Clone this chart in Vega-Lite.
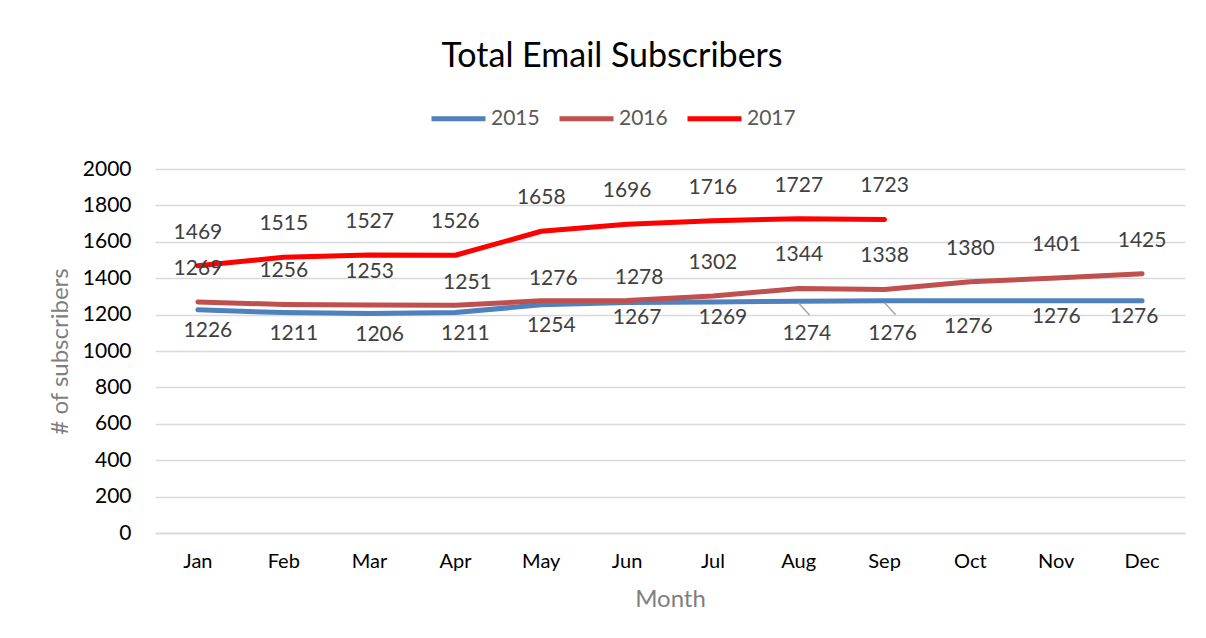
{
  "$schema": "https://vega.github.io/schema/vega-lite/v6.json",
  "autosize": "none",
  "width": 1030,
  "height": 364,
  "padding": {"left": 155, "top": 169, "right": 21, "bottom": 105},
  "background": "white",
  "config": {
    "font": "Lato",
    "view": {"stroke": null},
    "axis": {"labelFont": "Lato", "titleFont": "Lato"}
  },
  "title": {
    "text": "Total Email Subscribers",
    "font": "Lato",
    "fontSize": 34,
    "fontWeight": "normal",
    "color": "#000000",
    "anchor": "middle",
    "frame": "group",
    "dx": -58,
    "offset": 15
  },
  "data": {
    "values": [
      {"month": "Jan", "year": "2015", "value": 1226},
      {"month": "Feb", "year": "2015", "value": 1211},
      {"month": "Mar", "year": "2015", "value": 1206},
      {"month": "Apr", "year": "2015", "value": 1211},
      {"month": "May", "year": "2015", "value": 1254},
      {"month": "Jun", "year": "2015", "value": 1267},
      {"month": "Jul", "year": "2015", "value": 1269},
      {"month": "Aug", "year": "2015", "value": 1274},
      {"month": "Sep", "year": "2015", "value": 1276},
      {"month": "Oct", "year": "2015", "value": 1276},
      {"month": "Nov", "year": "2015", "value": 1276},
      {"month": "Dec", "year": "2015", "value": 1276},
      {"month": "Jan", "year": "2016", "value": 1269},
      {"month": "Feb", "year": "2016", "value": 1256},
      {"month": "Mar", "year": "2016", "value": 1253},
      {"month": "Apr", "year": "2016", "value": 1251},
      {"month": "May", "year": "2016", "value": 1276},
      {"month": "Jun", "year": "2016", "value": 1278},
      {"month": "Jul", "year": "2016", "value": 1302},
      {"month": "Aug", "year": "2016", "value": 1344},
      {"month": "Sep", "year": "2016", "value": 1338},
      {"month": "Oct", "year": "2016", "value": 1380},
      {"month": "Nov", "year": "2016", "value": 1401},
      {"month": "Dec", "year": "2016", "value": 1425},
      {"month": "Jan", "year": "2017", "value": 1469},
      {"month": "Feb", "year": "2017", "value": 1515},
      {"month": "Mar", "year": "2017", "value": 1527},
      {"month": "Apr", "year": "2017", "value": 1526},
      {"month": "May", "year": "2017", "value": 1658},
      {"month": "Jun", "year": "2017", "value": 1696},
      {"month": "Jul", "year": "2017", "value": 1716},
      {"month": "Aug", "year": "2017", "value": 1727},
      {"month": "Sep", "year": "2017", "value": 1723}
    ]
  },
  "encoding": {
    "x": {
      "field": "month",
      "type": "nominal",
      "sort": ["Jan", "Feb", "Mar", "Apr", "May", "Jun", "Jul", "Aug", "Sep", "Oct", "Nov", "Dec"],
      "scale": {"paddingInner": 0, "paddingOuter": 0},
      "axis": {
        "title": "Month",
        "titleColor": "#7f7f7f",
        "titleFontSize": 24,
        "titleFontWeight": "normal",
        "titlePadding": 16,
        "labelAngle": 0,
        "labelFontSize": 20,
        "labelColor": "#000000",
        "labelPadding": 18,
        "ticks": false,
        "domain": true,
        "domainColor": "#d9d9d9",
        "domainWidth": 1.5,
        "grid": false
      }
    },
    "y": {
      "field": "value",
      "type": "quantitative",
      "scale": {"domain": [0, 2000], "nice": false},
      "axis": {
        "title": "# of subscribers",
        "titleColor": "#7f7f7f",
        "titleFontSize": 24,
        "titleFontWeight": "normal",
        "titlePadding": 10,
        "format": "d",
        "values": [0, 200, 400, 600, 800, 1000, 1200, 1400, 1600, 1800, 2000],
        "labelFontSize": 21,
        "labelColor": "#000000",
        "labelPadding": 24,
        "ticks": false,
        "domain": false,
        "grid": true,
        "gridColor": "#d9d9d9",
        "gridWidth": 1.5
      }
    }
  },
  "layer": [
    {
      "mark": {"type": "line", "strokeWidth": 5, "strokeCap": "round", "strokeJoin": "round"},
      "encoding": {
        "color": {
          "field": "year",
          "type": "nominal",
          "scale": {"domain": ["2015", "2016", "2017"], "range": ["#4f81bd", "#c0504d", "#ff0000"]},
          "legend": {
            "title": null,
            "orient": "none",
            "direction": "horizontal",
            "legendX": 274,
            "legendY": -80,
            "symbolType": "stroke",
            "symbolSize": 2916,
            "symbolStrokeWidth": 5,
            "labelFontSize": 21,
            "labelColor": "#595959",
            "labelOffset": 3,
            "columnPadding": 9,
            "labelFont": "Lato"
          }
        }
      }
    },
    {
      "transform": [{"filter": "datum.year == '2015' && (datum.month == 'Aug' || datum.month == 'Sep')"}],
      "mark": {"type": "rule", "color": "#a6a6a6", "strokeWidth": 1.5, "xOffset": 0, "yOffset": 2, "x2Offset": 11, "y2Offset": 14},
      "encoding": {
        "x2": {"field": "month"},
        "y2": {"field": "value"}
      }
    },
    {
      "transform": [{"filter": "datum.year == '2017'"}],
      "mark": {"type": "text", "fontSize": 21, "color": "#404040", "dy": -33},
      "encoding": {"text": {"field": "value", "type": "quantitative"}}
    },
    {
      "transform": [{"filter": "datum.year == '2016' && indexof(['Apr','May','Jun'], datum.month) < 0"}],
      "mark": {"type": "text", "fontSize": 21, "color": "#404040", "dy": -33},
      "encoding": {"text": {"field": "value", "type": "quantitative"}}
    },
    {
      "transform": [{"filter": "datum.year == '2016' && indexof(['Apr','May','Jun'], datum.month) >= 0"}],
      "mark": {"type": "text", "fontSize": 21, "color": "#404040", "dy": -22, "dx": 12},
      "encoding": {"text": {"field": "value", "type": "quantitative"}}
    },
    {
      "transform": [{"filter": "datum.year == '2015' && indexof(['Jan','Feb','Mar','Apr','May'], datum.month) >= 0"}],
      "mark": {"type": "text", "fontSize": 21, "color": "#404040", "dy": 21, "dx": 10},
      "encoding": {"text": {"field": "value", "type": "quantitative"}}
    },
    {
      "transform": [{"filter": "datum.year == '2015' && indexof(['Jun','Jul'], datum.month) >= 0"}],
      "mark": {"type": "text", "fontSize": 21, "color": "#404040", "dy": 16, "dx": 10},
      "encoding": {"text": {"field": "value", "type": "quantitative"}}
    },
    {
      "transform": [{"filter": "datum.year == '2015' && indexof(['Aug','Sep'], datum.month) >= 0"}],
      "mark": {"type": "text", "fontSize": 21, "color": "#404040", "dy": 33, "dx": 8},
      "encoding": {"text": {"field": "value", "type": "quantitative"}}
    },
    {
      "transform": [{"filter": "datum.year == '2015' && datum.month == 'Oct'"}],
      "mark": {"type": "text", "fontSize": 21, "color": "#404040", "dy": 26, "dx": -2},
      "encoding": {"text": {"field": "value", "type": "quantitative"}}
    },
    {
      "transform": [{"filter": "datum.year == '2015' && datum.month == 'Nov'"}],
      "mark": {"type": "text", "fontSize": 21, "color": "#404040", "dy": 16, "dx": 0},
      "encoding": {"text": {"field": "value", "type": "quantitative"}}
    },
    {
      "transform": [{"filter": "datum.year == '2015' && datum.month == 'Dec'"}],
      "mark": {"type": "text", "fontSize": 21, "color": "#404040", "dy": 16, "dx": -8},
      "encoding": {"text": {"field": "value", "type": "quantitative"}}
    }
  ]
}
